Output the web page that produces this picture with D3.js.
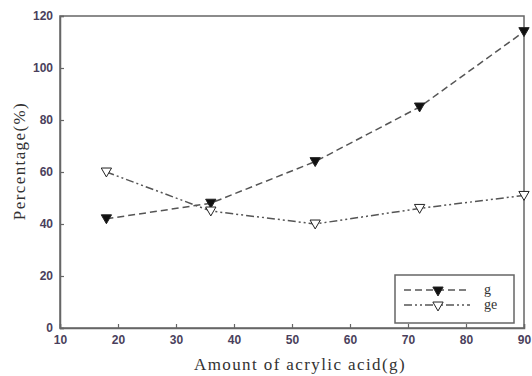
<!DOCTYPE html>
<html><head><meta charset="utf-8">
<script src="https://cdn.jsdelivr.net/npm/d3@7"></script>
<style>body{margin:0;background:#fff}</style>
</head><body><svg id="c" width="532" height="376"></svg>
<script>
const xValues = [18, 36, 54, 72, 90];
const gValues = [42, 48, 64, 85, 114];
const geValues = [60, 45, 40, 46, 51];
const xTicks = [10, 20, 30, 40, 50, 60, 70, 80, 90];
const yTicks = [0, 20, 40, 60, 80, 100, 120];
const seriesNames = ["g", "ge"];

const svg = d3.select("#c");
const L = 60, R = 524, T = 16, B = 328;
const x = d3.scaleLinear().domain([10, 90]).range([L, R]);
const y = d3.scaleLinear().domain([0, 120]).range([B, T]);
const axisCol = "#666";
const tickCol = "#4a3f5c";
const serif = "'Liberation Serif', 'Times New Roman', serif";

// frame
svg.append("rect").attr("x", L).attr("y", T).attr("width", R - L).attr("height", B - T)
  .attr("fill", "none").attr("stroke", axisCol).attr("stroke-width", 1.5);

const xa = svg.append("g").attr("transform", `translate(0,${B})`)
  .call(d3.axisBottom(x).tickValues(xTicks).tickSize(-4).tickPadding(5));
const ya = svg.append("g").attr("transform", `translate(${L},0)`)
  .call(d3.axisLeft(y).tickValues(yTicks).tickSize(-4).tickPadding(7));
[xa, ya].forEach(a => {
  a.select(".domain").attr("stroke", axisCol).attr("stroke-width", 1.5);
  a.selectAll(".tick line").attr("stroke", axisCol).attr("stroke-width", 1.2);
  a.selectAll(".tick text").attr("fill", tickCol).attr("font-family", "Arial, 'Liberation Sans', sans-serif")
    .attr("font-size", 12).attr("font-weight", "bold");
});
xa.selectAll(".tick text").attr("dy", "0.9em");

// titles
svg.append("text").attr("x", (L + R) / 2 + 8).attr("y", 370).attr("text-anchor", "middle")
  .attr("font-family", serif).attr("font-size", 17).attr("letter-spacing", 1.4).attr("fill", "#333")
  .text("Amount of acrylic acid(g)");
svg.append("text").attr("transform", `translate(25,${161}) rotate(-90)`).attr("text-anchor", "middle")
  .attr("font-family", serif).attr("font-size", 17).attr("letter-spacing", 1.4).attr("fill", "#333")
  .text("Percentage(%)");

const tri = d3.symbol().type(d3.symbolTriangle).size(46);
const series = [
  {name: seriesNames[0], vals: gValues, dash: "7,4", fill: "#111"},
  {name: seriesNames[1], vals: geValues, dash: "8,3,2,3,2,3", fill: "#fff"}
];
const line = d3.line().x(d => x(d[0])).y(d => y(d[1]));
series.forEach(s => {
  const pts = xValues.map((v, i) => [v, s.vals[i]]);
  svg.append("path").attr("d", line(pts)).attr("fill", "none").attr("stroke", "#555")
    .attr("stroke-width", 1.5).attr("stroke-dasharray", s.dash);
  svg.selectAll(null).data(pts).enter().append("path")
    .attr("d", tri).attr("transform", d => `translate(${x(d[0])},${y(d[1]) - 1}) rotate(180)`)
    .attr("fill", s.fill).attr("stroke", "#222").attr("stroke-width", 1);
});

// legend
const lg = svg.append("g");
lg.append("rect").attr("x", 395).attr("y", 275).attr("width", 119).attr("height", 48)
  .attr("fill", "#fff").attr("stroke", axisCol).attr("stroke-width", 1.5);
series.forEach((s, i) => {
  const yy = 290 + i * 15;
  lg.append("line").attr("x1", 404).attr("x2", 470).attr("y1", yy).attr("y2", yy)
    .attr("stroke", "#555").attr("stroke-width", 1.5).attr("stroke-dasharray", s.dash);
  lg.append("path").attr("d", tri).attr("transform", `translate(438,${yy}) rotate(180)`)
    .attr("fill", s.fill).attr("stroke", "#222").attr("stroke-width", 1);
  lg.append("text").attr("x", 484).attr("y", yy + 4)
    .attr("font-family", serif).attr("font-size", 14).attr("fill", "#333")
    .text(s.name);
});
</script></body></html>
